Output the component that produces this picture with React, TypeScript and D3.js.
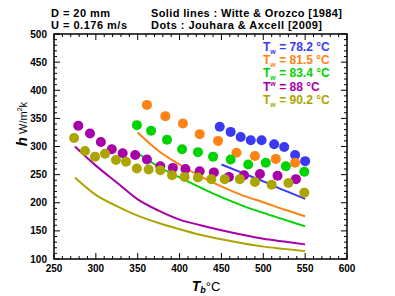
import React, { useEffect, useRef } from 'react';
import * as d3 from 'd3';

// Witte & Orozco [1984] correlation curves (Tb in °C, h in W/m²k)
const lineTb = [275, 300, 325, 350, 375, 400, 425, 450, 475, 500, 525, 550];
const line782 = [null, null, null, null, null, null, null, 268, 253, 238, 222, 207];
const line815 = [null, null, null, 325, 292, 268, 247, 229, 213, 201, 188, 176];
const line834 = [null, null, null, 288, 264, 245, 227, 210, 195, 182, 170, 158];
const line88 = [300, 266, 236, 206, 186, 170, 160, 151, 143, 136, 131, 126];
const line902 = [245, 214, 194, 177, 164, 153, 143, 135, 128, 122, 118, 114];

// Jouhara & Axcell [2009] measurements
const dots782Tb = [448, 461, 473, 485, 498, 513, 525, 538, 550];
const dots782h = [335, 326, 317, 311, 311, 304, 299, 285, 274];
const dots815Tb = [361, 383, 404, 424, 446, 468, 490, 515, 538];
const dots815h = [374, 354, 341, 322, 310, 289, 283, 278, 271];
const dots834Tb = [349, 366, 385, 403, 422, 440, 461, 482, 503, 527, 549];
const dots834h = [338, 328, 312, 295, 290, 282, 277, 268, 271, 265, 255];
const dots88Tb = [279, 293, 306, 319, 332, 347, 361, 377, 392, 407, 424, 441, 459, 477, 496, 517, 539];
const dots88h = [337, 323, 308, 295, 288, 285, 277, 265, 262, 260, 256, 254, 246, 249, 251, 248, 242];
const dots902Tb = [274, 287, 299, 311, 324, 336, 349, 363, 377, 391, 406, 422, 438, 454, 472, 490, 510, 530, 549];
const dots902h = [315, 292, 282, 287, 276, 273, 261, 259, 258, 249, 246, 245, 242, 242, 242, 237, 232, 235, 218];

const seriesNames = ['78.2', '81.5', '83.4', '88', '90.2'];
const seriesColors = ['#3a3af5', '#ff8214', '#00d400', '#a800a8', '#aca400'];
const xTicks = [250, 300, 350, 400, 450, 500, 550, 600];
const yTicks = [100, 150, 200, 250, 300, 350, 400, 450, 500];

const W = 395;
const H = 296;
const frame = { left: 54, right: 347, top: 34, bottom: 259 };

export default function App() {
  const svgRef = useRef<SVGSVGElement>(null);

  useEffect(() => {
    if (!svgRef.current) return;
    const svg = d3.select(svgRef.current);
    svg.selectAll('*').remove();

    const x = d3.scaleLinear().domain([250, 600]).range([frame.left, frame.right]);
    const y = d3.scaleLinear().domain([100, 500]).range([frame.bottom, frame.top]);

    const font = 'Liberation Sans, Arial, sans-serif';

    // ticks, all four sides, pointing inward
    const ticks = svg.append('g').attr('stroke', '#000').attr('stroke-width', 1);
    d3.range(250, 601, 10).forEach(v => {
      const major = v % 50 === 0;
      const len = major ? 6 : 3;
      ticks.append('line').attr('x1', x(v)).attr('x2', x(v))
        .attr('y1', frame.bottom).attr('y2', frame.bottom - len);
      ticks.append('line').attr('x1', x(v)).attr('x2', x(v))
        .attr('y1', frame.top).attr('y2', frame.top + len);
    });
    d3.range(100, 501, 10).forEach(v => {
      const major = v % 50 === 0;
      const len = major ? 6 : 3;
      ticks.append('line').attr('y1', y(v)).attr('y2', y(v))
        .attr('x1', frame.left).attr('x2', frame.left + len);
      ticks.append('line').attr('y1', y(v)).attr('y2', y(v))
        .attr('x1', frame.right).attr('x2', frame.right - len);
    });

    svg.append('rect')
      .attr('x', frame.left).attr('y', frame.top)
      .attr('width', frame.right - frame.left).attr('height', frame.bottom - frame.top)
      .attr('fill', 'none').attr('stroke', '#000').attr('stroke-width', 1.5);

    // tick labels
    svg.append('g').selectAll('text').data(xTicks).join('text')
      .attr('x', d => x(d)).attr('y', frame.bottom + 13)
      .attr('text-anchor', 'middle')
      .attr('font-family', font).attr('font-weight', 'bold').attr('font-size', 10)
      .text(d => d);
    svg.append('g').selectAll('text').data(yTicks).join('text')
      .attr('x', frame.left - 7).attr('y', d => y(d) + 3.5)
      .attr('text-anchor', 'end')
      .attr('font-family', font).attr('font-weight', 'bold').attr('font-size', 10)
      .text(d => d);

    // correlation lines
    const allLines = [line782, line815, line834, line88, line902];
    const lineGen = d3.line<number | null>()
      .defined(d => d !== null)
      .x((_, i) => x(lineTb[i]))
      .y(d => y(d as number))
      .curve(d3.curveMonotoneX);
    allLines.forEach((vals, i) => {
      svg.append('path')
        .datum(vals)
        .attr('d', lineGen)
        .attr('fill', 'none')
        .attr('stroke', seriesColors[i])
        .attr('stroke-width', 2);
    });

    // measurement dots
    const allDots = [
      [dots782Tb, dots782h],
      [dots815Tb, dots815h],
      [dots834Tb, dots834h],
      [dots88Tb, dots88h],
      [dots902Tb, dots902h],
    ];
    allDots.forEach(([tb, hv], i) => {
      svg.append('g').selectAll('circle').data(tb).join('circle')
        .attr('cx', d => x(d))
        .attr('cy', (_, j) => y(hv[j]))
        .attr('r', 5)
        .attr('fill', seriesColors[i]);
    });

    // legend
    const legendY = [51, 64, 77, 91, 104];
    seriesNames.forEach((name, i) => {
      const t = svg.append('text')
        .attr('x', 263).attr('y', legendY[i])
        .attr('font-family', font).attr('font-weight', 'bold').attr('font-size', 12)
        .attr('fill', seriesColors[i]);
      t.append('tspan').text('T');
      t.append('tspan').attr('font-size', 7).attr('dy', i === 3 ? -5 : 3).text('w');
      t.append('tspan').attr('dy', i === 3 ? 5 : -3).text(` = ${name} °C`);
    });

    // header texts
    const hdr = svg.append('g').attr('font-family', font).attr('font-weight', 'bold').attr('font-size', 11)
      .attr('lengthAdjust', 'spacing');
    hdr.append('text').attr('x', 51).attr('y', 17).attr('textLength', 59).text('D = 20 mm');
    hdr.append('text').attr('x', 51).attr('y', 29).attr('textLength', 76).text('U = 0.176 m/s');
    hdr.append('text').attr('x', 151).attr('y', 17).attr('textLength', 191).text('Solid lines : Witte & Orozco [1984]');
    hdr.append('text').attr('x', 151).attr('y', 29).attr('textLength', 171).text('Dots : Jouhara & Axcell [2009]');

    // axis titles
    const xt = svg.append('text')
      .attr('x', 206).attr('y', 291)
      .attr('text-anchor', 'middle')
      .attr('font-family', font);
    xt.append('tspan').attr('font-weight', 'bold').attr('font-style', 'italic').attr('font-size', 14).text('T');
    xt.append('tspan').attr('font-weight', 'bold').attr('font-style', 'italic').attr('font-size', 9).attr('dy', 2).text('b');
    xt.append('tspan').attr('font-size', 13).attr('dy', -2).text('°C');

    const yt = svg.append('text')
      .attr('transform', `translate(27, 124) rotate(-90)`)
      .attr('text-anchor', 'middle')
      .attr('font-family', font);
    yt.append('tspan').attr('font-weight', 'bold').attr('font-style', 'italic').attr('font-size', 15).text('h');
    yt.append('tspan').attr('font-size', 11).text(' W/m');
    yt.append('tspan').attr('font-size', 7).attr('dy', -5).text('2');
    yt.append('tspan').attr('font-size', 11).attr('dy', 5).text('k');
  }, []);

  return (
    <div style={{ position: 'fixed', left: 0, top: 0, width: W, height: H, background: '#fff' }}>
      <svg ref={svgRef} width={W} height={H} viewBox={`0 0 ${W} ${H}`} />
    </div>
  );
}
